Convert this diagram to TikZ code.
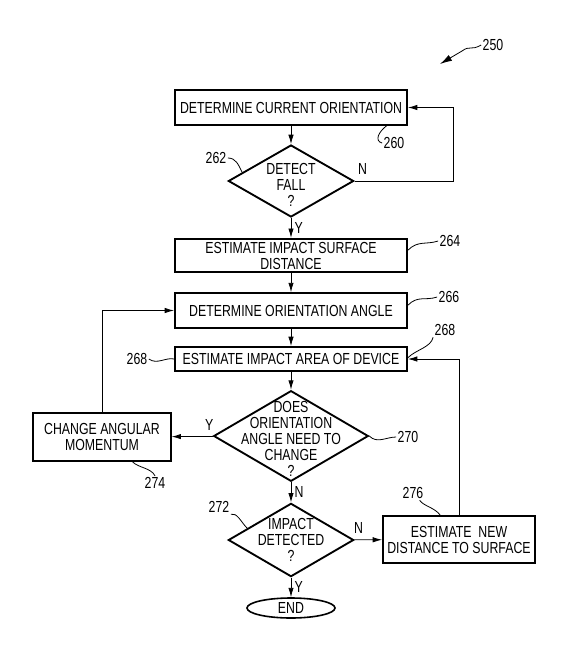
\documentclass[tikz,border=0pt]{standalone}
\usepackage{fontspec}
\setmainfont{Liberation Sans}[FakeStretch=0.77]
\usetikzlibrary{shapes.geometric,arrows.meta}
\tikzset{
  every node/.style={font=\fontsize{12}{12}\selectfont},
  stepbox/.style={draw, line width=1.4pt, align=center, inner sep=2pt},
  query/.style={draw, diamond, line width=1.4pt, inner sep=0pt},
  flow/.style={-{Latex[length=7pt,width=4pt]}, line width=0.6pt},
  lead/.style={line width=0.6pt},
  refnum/.style={inner sep=1pt}
}
\begin{document}
\begin{tikzpicture}[x=0.75pt,y=-0.75pt]
\useasboundingbox (0,0) rectangle (574,654);
% steps
\node[stepbox, minimum width=174pt, minimum height=26pt] (b1) at (291,107.5) {DETERMINE CURRENT ORIENTATION};
\node[query, minimum width=94pt, minimum height=54pt, label={[align=center, yshift=-3pt]center:{DETECT\\FALL\\?}}] (d1) at (291,181) {};
\node[stepbox, minimum width=174pt, minimum height=25pt] (b2) at (291,255.5) {ESTIMATE IMPACT SURFACE\\DISTANCE};
\node[stepbox, minimum width=174pt, minimum height=26pt] (b3) at (291,310.5) {DETERMINE ORIENTATION ANGLE};
\node[stepbox, minimum width=174pt, minimum height=18pt] (b4) at (291,359) {ESTIMATE IMPACT AREA OF DEVICE};
\node[query, minimum width=116pt, minimum height=68pt, label={[align=center, yshift=-2pt]center:{DOES\\ORIENTATION\\ANGLE NEED TO\\CHANGE\\?}}] (d2) at (291,436) {};
\node[stepbox, minimum width=103pt, minimum height=36pt] (ch) at (102,437) {CHANGE ANGULAR\\MOMENTUM};
\node[query, minimum width=94pt, minimum height=55pt, label={[align=center]center:{IMPACT\\DETECTED\\?}}] (d3) at (291,540) {};
\node[stepbox, minimum width=114pt, minimum height=35pt] (b5) at (459,539.5) {ESTIMATE~ NEW\\DISTANCE TO SURFACE};
\node[draw, ellipse, line width=1.2pt, inner sep=0pt, minimum width=66pt, minimum height=15pt] (end) at (291,608) {END};
% flow
\draw[flow] (b1) -- (d1);
\draw[flow] (d1.east) -- ++(99,0) node[pos=0.08, above, yshift=1pt] (n1) {N} |- (b1.east);
\draw[flow] (d1) -- (b2) node[midway, right, xshift=-1pt] (y1) {Y};
\draw[flow] (b2) -- (b3);
\draw[flow] (b3) -- (b4);
\draw[flow] (b4) -- (d2);
\draw[flow] (d2) -- (ch) node[pos=0.1, above, yshift=1pt] (y2) {Y};
\draw[flow] (ch.north) |- (b3.west);
\draw[flow] (d2) -- (d3) node[midway, right, xshift=-1pt] (n2) {N};
\draw[flow] (d3) -- (b5) node[pos=0.15, above, yshift=1pt] (n3) {N};
\draw[flow] (b5.north) |- (b4.east);
\draw[flow] (d3) -- (end) node[midway, right, xshift=-1pt] (y3) {Y};
% reference numerals
\node[refnum] (l250) at (493,45) {250};
\coordinate (t250) at (440,64);
\draw[lead, -{Latex[length=9pt,width=5pt]}] (l250.west) .. controls +(-10,6) and +(8,-6) .. (462,51) -- (t250);
\node[refnum] (l260) at (394,143) {260};
\draw[lead] ([xshift=-16pt]b1.south east) .. controls +(-8,6) and +(-8,-2) .. (l260.west);
\node[refnum] (l262) at (216,158) {262};
\draw[lead] (l262.east) .. controls +(8,0) and +(-4,-8) .. (d1.170);
\node[refnum] (l264) at (450,241) {264};
\draw[lead] ([yshift=4pt]b2.east) .. controls +(10,-10) and +(-12,4) .. (l264.west);
\node[refnum] (l266) at (449,297) {266};
\draw[lead] ([yshift=4pt]b3.east) .. controls +(10,-10) and +(-12,4) .. (l266.west);
\node[refnum] (l268r) at (445,330) {268};
\draw[lead] (l268r.south west) .. controls +(-2,10) and +(8,-8) .. ([yshift=1pt]b4.east);
\node[refnum] (l268l) at (137,359) {268};
\draw[lead] (l268l.east) .. controls +(8,6) and +(-8,-2) .. (b4.west);
\node[refnum] (l270) at (408,437) {270};
\draw[lead] (d2.east) .. controls +(8,8) and +(-10,0) .. (l270.west);
\node[refnum] (l274) at (155,483) {274};
\draw[lead] ([xshift=23pt]ch.south) .. controls +(6,6) and +(-4,-8) .. (l274.north);
\node[refnum] (l272) at (219,507) {272};
\draw[lead] (l272.south east) .. controls +(6,-2) and +(-6,-6) .. (d3.165);
\node[refnum] (l276) at (413,493) {276};
\draw[lead] ([xshift=5pt]l276.south) .. controls +(4,6) and +(-6,-8) .. ([xshift=-14pt]b5.north);
\end{tikzpicture}
\end{document}
